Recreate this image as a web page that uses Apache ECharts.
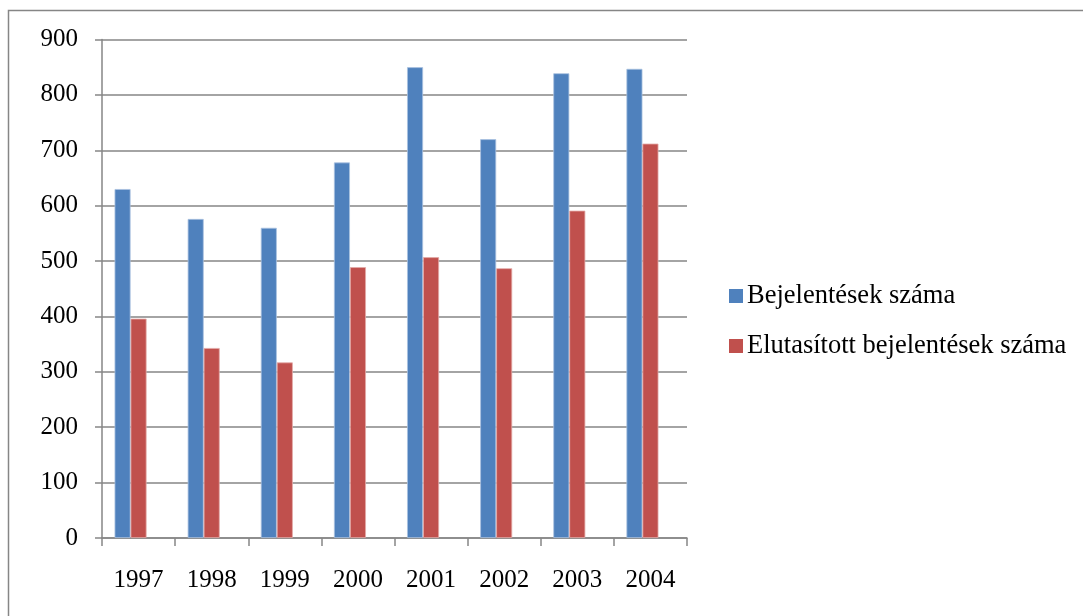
<!DOCTYPE html>
<html>
<head>
<meta charset="utf-8">
<script src="https://cdn.jsdelivr.net/npm/echarts@6/dist/echarts.min.js"></script>
<style>
  html, body { margin: 0; padding: 0; background: #ffffff; }
  #chart { width: 1083px; height: 616px; }
</style>
</head>
<body>
<div id="chart"></div>
<script>
const years = ['1997', '1998', '1999', '2000', '2001', '2002', '2003', '2004'];
const reports = [630, 576, 560, 678, 850, 720, 839, 847];
const rejected = [396, 343, 317, 489, 507, 487, 591, 712];
// third, empty slot in each group (keeps the two bars left of the category centre)
const spare = [null, null, null, null, null, null, null, null];
const yTicks = { min: 0, max: 900, interval: 100 };

const FONT = '"Liberation Serif", "Times New Roman", serif';
const GRID_GREY = '#868686';

const chart = echarts.init(document.getElementById('chart'), null, { renderer: 'canvas' });

chart.setOption({
  animation: false,
  backgroundColor: '#ffffff',
  textStyle: { fontFamily: FONT },
  graphic: [{
    type: 'rect',
    shape: { x: 8.5, y: 10.5, width: 1200, height: 800 },
    style: { fill: 'none', stroke: GRID_GREY, lineWidth: 1.5 },
    silent: true
  }],
  grid: { left: 102, right: 396, top: 39.5, bottom: 78, containLabel: false },
  legend: {
    orient: 'vertical',
    left: 729,
    top: 281,
    padding: 0,
    itemWidth: 14,
    itemHeight: 14,
    itemGap: 20,
    icon: 'rect',
    itemStyle: { borderWidth: 0 },
    data: ['Bejelentések száma', 'Elutasított bejelentések száma'],
    textStyle: { fontFamily: FONT, fontSize: 26.5, color: '#000000', lineHeight: 30, padding: [0, 0, 0, -1] }
  },
  xAxis: {
    type: 'category',
    data: years,
    boundaryGap: true,
    axisLine: { show: true, lineStyle: { color: GRID_GREY, width: 1.5 } },
    axisTick: { show: true, length: 8, inside: false, lineStyle: { color: GRID_GREY, width: 1.5 } },
    axisLabel: { fontFamily: FONT, fontSize: 25, color: '#000000', margin: 30 },
    splitLine: { show: false }
  },
  yAxis: {
    type: 'value',
    min: yTicks.min,
    max: yTicks.max,
    interval: yTicks.interval,
    axisLine: { show: true, lineStyle: { color: GRID_GREY, width: 1.5 } },
    axisTick: { show: true, length: 7, inside: false, lineStyle: { color: GRID_GREY, width: 1.5 } },
    axisLabel: { fontFamily: FONT, fontSize: 25, color: '#000000', margin: 24 },
    splitLine: { show: true, lineStyle: { color: GRID_GREY, width: 1.5 } }
  },
  series: [
    {
      name: 'Bejelentések száma',
      type: 'bar',
      data: reports,
      barWidth: 16,
      barGap: '0%',
      itemStyle: { color: '#4F81BD', borderColor: '#a9c1e0', borderWidth: 0.8 }
    },
    {
      name: 'Elutasított bejelentések száma',
      type: 'bar',
      data: rejected,
      barWidth: 16,
      barGap: '0%',
      itemStyle: { color: '#C0504D', borderColor: '#e3a9a7', borderWidth: 0.8 }
    },
    {
      name: 'spare',
      type: 'bar',
      data: spare,
      barWidth: 16,
      barGap: '0%',
      itemStyle: { color: '#9BBB59' }
    }
  ]
});
</script>
</body>
</html>
